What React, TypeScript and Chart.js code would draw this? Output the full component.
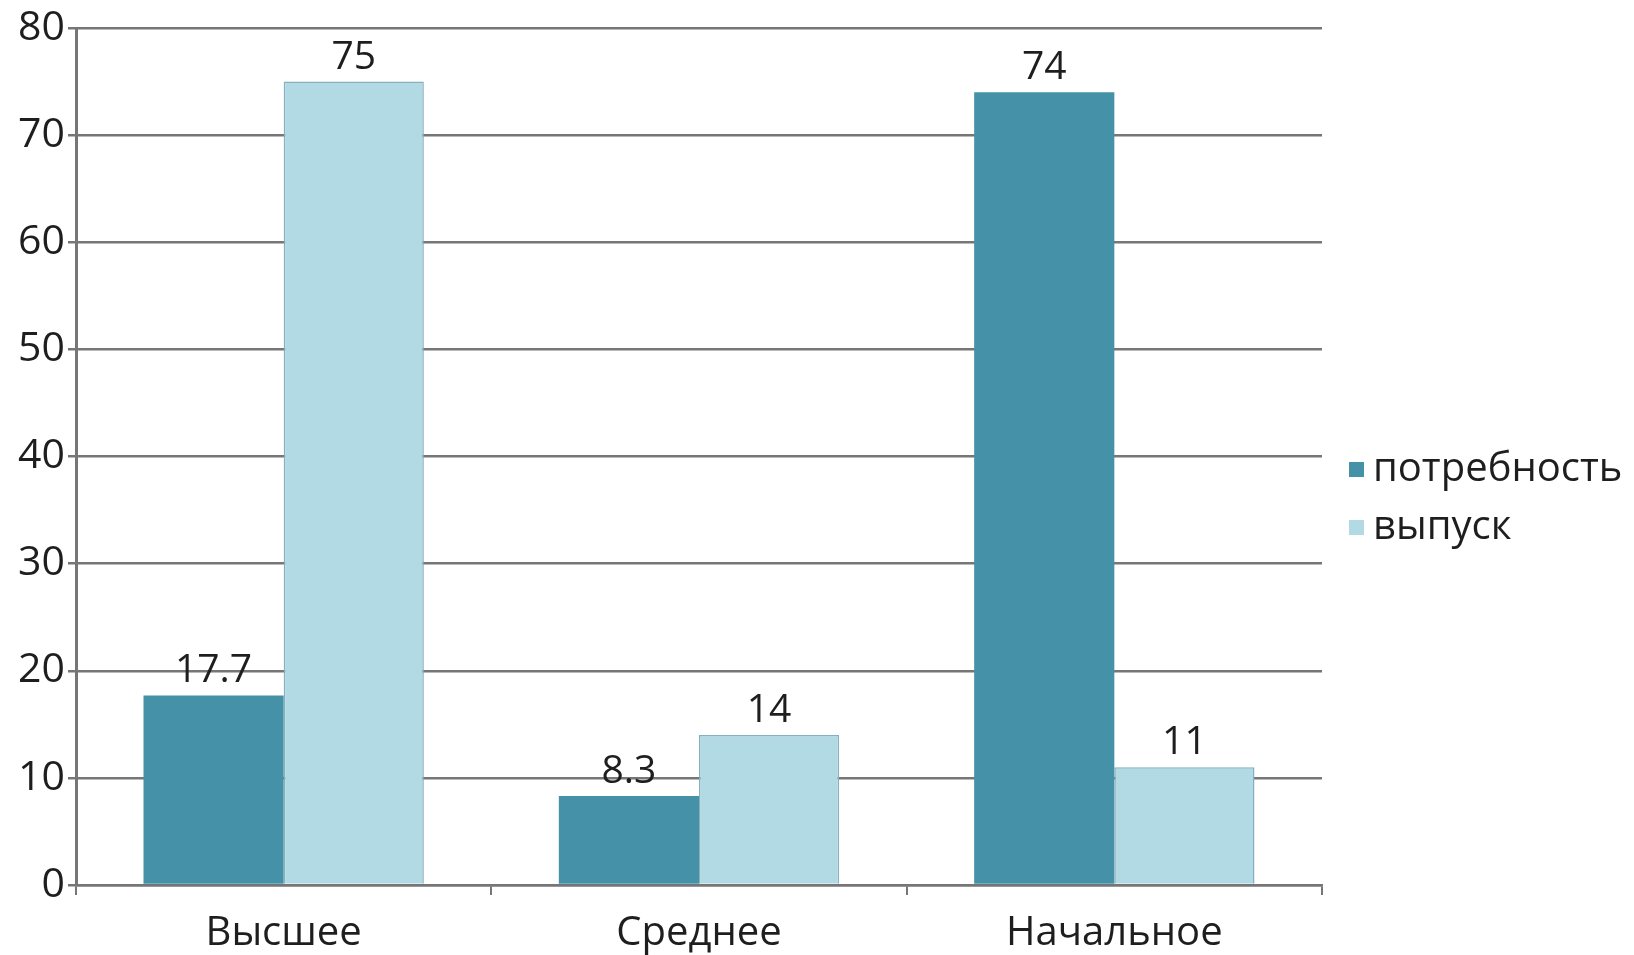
import React, { useEffect, useRef } from "react";
import { Chart, registerables } from "chart.js";

Chart.register(...registerables);

const categories = ["Высшее", "Среднее", "Начальное"];
const seriesNames = ["потребность", "выпуск"];
const needValues = [17.7, 8.3, 74];
const outputValues = [75, 14, 11];
const yMin = 0;
const yMax = 80;
const yStep = 10;

const DARK = "#4591a8";
const LIGHT = "#b2dae4";
const FONT = "'Open Sans', 'Noto Sans', sans-serif";
const TEXT = "#1e1e1e";
const GRID = "#767676";

export default function App() {
  const ref = useRef<HTMLCanvasElement>(null);

  useEffect(() => {
    document.body.style.margin = "0";
    const canvas = ref.current;
    if (!canvas) return;

    const valueLabels = {
      id: "valueLabels",
      afterDatasetsDraw(chart: any) {
        const c = chart.ctx;
        c.save();
        c.font = `39px ${FONT}`;
        c.fillStyle = TEXT;
        c.textAlign = "center";
        c.textBaseline = "middle";
        chart.data.datasets.forEach((ds: any, i: number) => {
          const meta = chart.getDatasetMeta(i);
          meta.data.forEach((bar: any, j: number) => {
            c.fillText(String(ds.data[j]), bar.x, bar.y - 24);
          });
        });
        c.restore();
      },
    };

    const sideLegend = {
      id: "sideLegend",
      afterDraw(chart: any) {
        const c = chart.ctx;
        c.save();
        c.font = `40px ${FONT}`;
        c.textBaseline = "middle";
        c.textAlign = "left";
        const x0 = chart.chartArea.right + 27;
        const ys = [470, 528];
        chart.data.datasets.forEach((ds: any, i: number) => {
          c.fillStyle = ds.backgroundColor;
          c.fillRect(x0, ys[i] - 8, 15, 15);
          c.fillStyle = TEXT;
          c.fillText(ds.label, x0 + 24, ys[i]);
        });
        c.restore();
      },
    };

    const chart = new Chart(canvas, {
      type: "bar",
      data: {
        labels: categories,
        datasets: [
          {
            label: seriesNames[0],
            data: needValues,
            backgroundColor: DARK,
            borderColor: DARK,
            borderWidth: 0,
            categoryPercentage: 0.675,
            barPercentage: 1.0,
          },
          {
            label: seriesNames[1],
            data: outputValues,
            backgroundColor: LIGHT,
            borderColor: "#86b0bd",
            borderWidth: 1.5,
            categoryPercentage: 0.675,
            barPercentage: 1.0,
          },
        ],
      },
      options: {
        animation: false,
        responsive: true,
        maintainAspectRatio: false,
        layout: { padding: { left: 8, top: 28, right: 312, bottom: 0 } },
        plugins: {
          legend: { display: false },
          tooltip: { enabled: false },
          title: { display: false },
        },
        scales: {
          x: {
            grid: {
              offset: true,
              drawOnChartArea: false,
              drawTicks: true,
              tickLength: 10,
              color: GRID,
              lineWidth: 2,
            },
            border: { display: true, color: GRID, width: 2.5 },
            ticks: {
              font: { family: FONT, size: 40 },
              color: TEXT,
              padding: 15,
            },
            afterFit: (s: any) => {
              s.height = 70;
            },
          },
          y: {
            min: yMin,
            max: yMax,
            ticks: {
              stepSize: yStep,
              font: { family: FONT, size: 41 },
              color: TEXT,
              padding: 3,
            },
            grid: {
              color: GRID,
              lineWidth: 2.5,
              tickLength: 8,
              drawTicks: true,
            },
            border: { display: true, color: GRID, width: 3 },
            afterFit: (s: any) => {
              s.width = 68;
            },
          },
        },
      },
      plugins: [valueLabels, sideLegend],
    });

    return () => chart.destroy();
  }, []);

  return (
    <div style={{ width: 1634, height: 955, position: "relative" }}>
      <canvas ref={ref} />
    </div>
  );
}
